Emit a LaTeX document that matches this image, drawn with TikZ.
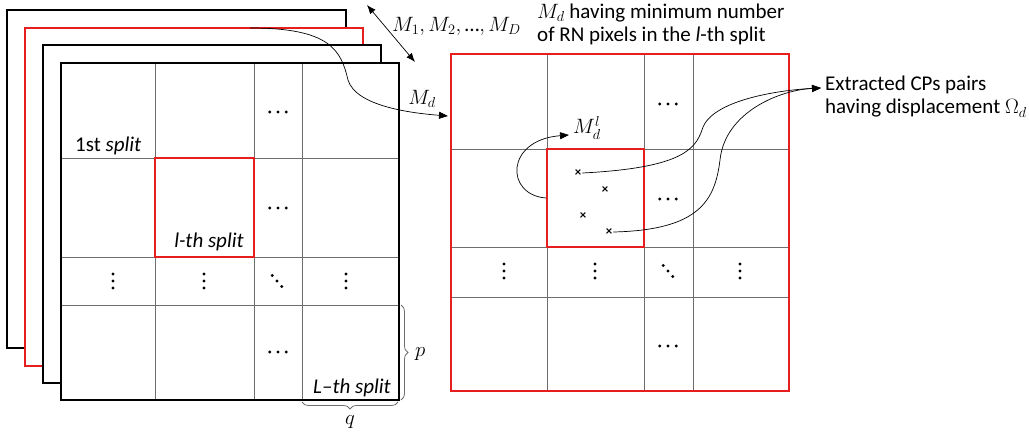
\documentclass[tikz,border=0pt]{standalone}
\usepackage{amsmath,amssymb}
\usepackage{fontspec}
\setmainfont{Carlito}
\usetikzlibrary{arrows.meta,decorations.pathreplacing}
\definecolor{myred}{RGB}{230,30,30}
\definecolor{mygray}{RGB}{110,110,110}
\tikzset{
  frame/.style={line width=2pt,fill=white},
  cell/.style={mygray,line width=0.9pt},
  lbl/.style={font=\fontsize{21}{23}\selectfont,inner sep=1pt},
  cp/.style={font=\fontsize{13}{14}\selectfont\bfseries,inner sep=1pt},
  conn/.style={line width=0.7pt,-{Triangle[length=9pt,width=7pt]}},
  brc/.style={mygray,line width=0.8pt,decorate,decoration={brace,amplitude=7pt}}
}
% dots drawn as small discs
\newcommand{\rowdots}[2]{\foreach \k in {-1,0,1}{\fill (#1+\k*8.3,#2) circle (1.6);}}
\newcommand{\coldots}[2]{\foreach \k in {-1,0,1}{\fill (#1,#2+\k*7) circle (1.6);}}
\newcommand{\diagdots}[2]{\foreach \k in {-1,0,1}{\fill (#1+\k*4.7,#2+\k*5.5) circle (1.6);}}
\begin{document}
\begin{tikzpicture}[x=1pt,y=-1pt]
      \useasboundingbox (0,0) rectangle (1029,444);
      % stack of masks
      \draw[frame] (7,10) rectangle (346,348);
      \draw[frame,draw=myred] (25,28) rectangle (363,366);
      \draw[frame] (43,45) rectangle (381,383);
      \draw[frame] (61,63) rectangle (399,400);
      % front grid
      \foreach \x in {155,254,302}{\draw[cell] (\x,63)--(\x,400);}
      \foreach \y in {158,257,305}{\draw[cell] (61,\y)--(399,\y);}
      \draw[line width=2pt] (61,63) rectangle (399,400);
      \draw[line width=2pt,myred] (155,158) rectangle (254,257);
      \node[lbl,anchor=west] (first) at (74,146) {1st \textit{split}};
      \node[lbl] (lth) at (209,242) {\textit{l-th split}};
      \node[lbl] (Lth) at (352,388) {\textit{L–th split}};
      \foreach \y in {112,208,352}{\rowdots{278}{\y}}
      \foreach \x in {113,204,346}{\coldots{\x}{281}}
      \diagdots{277}{281}
      % braces
      \draw[brc] (401,305)--(401,400);
      \node[lbl,anchor=west] (p) at (414,354) {$p$};
      \draw[brc] (398,402)--(302,402);
      \node[lbl,anchor=north] (q) at (350,414) {$q$};
      % stack arrow
      \coordinate (stA) at (367,5);
      \coordinate (stB) at (415,62);
      \draw[line width=0.7pt,{Latex[length=9pt,width=7pt]}-{Latex[length=9pt,width=7pt]}] (stA)--(stB);
      \node[lbl,anchor=west] (mlist) at (391,26) {$M_1, M_2, \text{…}, M_D$};
      % selected mask
      \foreach \x in {547,644,693}{\draw[cell] (\x,54)--(\x,391);}
      \foreach \y in {149,247,297}{\draw[cell] (451,\y)--(789,\y);}
      \draw[line width=2pt,myred] (451,54) rectangle (789,391);
      \draw[line width=2pt,myred] (547,149) rectangle (644,247);
      \foreach \y in {104,199,346}{\rowdots{668}{\y}}
      \foreach \x in {504,595,740}{\coldots{\x}{271}}
      \diagdots{668}{271}
      \node[lbl,anchor=north west,align=left] (title) at (536,3)
        {$M_d$ having minimum number\\of RN pixels in the \textit{l}-th split};
      % M_d arrow
      \coordinate (mdout) at (250,28);
      \coordinate (mdin) at (448,116);
      \draw[conn] (mdout) .. controls (330,28) and (341,50) .. (348,80)
        .. controls (356,106) and (410,113) .. (mdin);
      \node[lbl] (md) at (422,99) {$M_d$};
      % split arrow
      \coordinate (slout) at (546,198);
      \coordinate (slin) at (569,135);
      \draw[conn] (slout) .. controls (505,195) and (505,140) .. (slin);
      \node[lbl,anchor=west] (mdl) at (572,128) {$M_d^l$};
      % control points
      \node[cp] (c1) at (578,173) {×};
      \node[cp] (c2) at (605,190) {×};
      \node[cp] (c3) at (583,216) {×};
      \node[cp] (c4) at (609,232) {×};
      \coordinate (cpin) at (821,88);
      \node[lbl,anchor=west,align=left] (cps) at (824,97)
        {Extracted CPs pairs\\having displacement $\Omega_d$};
      \draw[conn] (c1.east) .. controls (680,168) and (695,150) .. (702,130)
        .. controls (710,100) and (780,90) .. (cpin);
      \draw[conn] (c4.east) .. controls (700,230) and (715,200) .. (720,160)
        .. controls (725,112) and (780,90) .. (cpin);
    \end{tikzpicture}
\end{document}
